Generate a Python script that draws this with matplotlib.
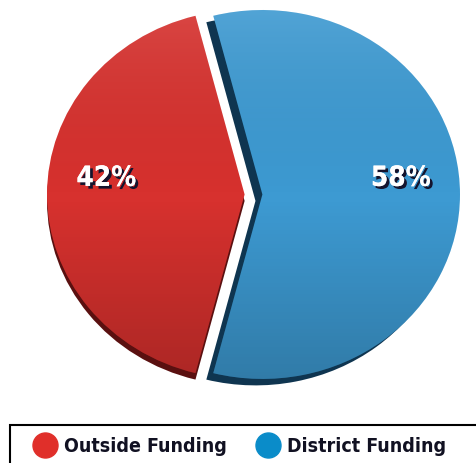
import numpy as np
import matplotlib.pyplot as plt
import matplotlib.patheffects as pe
from matplotlib.colors import LinearSegmentedColormap
from matplotlib.lines import Line2D
from matplotlib.patches import Rectangle

labels = ["Outside Funding", "District Funding"]
shares = [42, 58]
colors = ["#d7312e", "#3d9ad2"]
rim_colors = ["#5a1010", "#0f3550"]
legend_colors = ["#e02f2a", "#0a8cc9"]

fig = plt.figure(figsize=(4.77, 4.63), dpi=100)

# pie axes, stretched so the pie becomes an ellipse
ax = fig.add_axes([47 / 477, 73 / 463, 413 / 477, 380 / 463])
start = 180 - shares[0] / 100 * 360 / 2
expl = [0.03, 0.06]

# dark rim below the slices for a bit of depth
ax.pie(shares, colors=rim_colors[:1] + ["none"], startangle=start, explode=expl,
       center=(0.0, -0.035), wedgeprops=dict(linewidth=0))
ax.pie(shares, colors=["none", rim_colors[1]], startangle=start, explode=expl,
       center=(-0.035, -0.035), wedgeprops=dict(linewidth=0))
wedges, texts, autotexts = ax.pie(
    shares, colors=colors, startangle=start, explode=expl,
    autopct="%d%%", pctdistance=0.7, wedgeprops=dict(linewidth=0),
    textprops=dict(color="white", fontsize=20, fontweight="bold",
                   fontstretch="condensed", family=["DejaVu Sans"]))

# light at top, darker at bottom
grad = np.linspace(1, 0, 256).reshape(-1, 1)
shade = LinearSegmentedColormap.from_list(
    "shade", [(0, 0, 0, 0.22), (0, 0, 0, 0.0), (1, 1, 1, 0.12)])
for w in wedges:
    im = ax.imshow(grad, cmap=shade, extent=(-1.3, 1.3, -1.1, 1.05),
                   aspect="auto", zorder=w.get_zorder() + 0.1, interpolation="bilinear")
    im.set_clip_path(w)

for t in autotexts:
    x, y = t.get_position()
    t.set_position((x, y + 0.09))
    t.set_zorder(5)
    t.set_path_effects([pe.withSimplePatchShadow(offset=(2, -2), shadow_rgbFace="#14142e", alpha=1),
                        pe.Normal()])
ax.set_aspect("auto")
ax.set_xlim(-1.03, 1.06)
ax.set_ylim(-1.06, 1.0)
ax.axis("off")

# legend box, runs off the right and bottom edge like the original
fig.add_artist(Rectangle((10 / 477, -0.05), 1.0, (463 - 425) / 463 + 0.05,
                         transform=fig.transFigure, fill=False,
                         edgecolor="black", linewidth=1.5))
handles = [Line2D([], [], marker="o", linestyle="", markersize=18,
                  markerfacecolor=c, markeredgecolor=c) for c in legend_colors]
fig.legend(handles, labels, loc="center left", bbox_to_anchor=(33 / 477, 17 / 463),
           ncol=2, frameon=False, borderpad=0, borderaxespad=0,
           handlelength=1.2, handletextpad=0.4, columnspacing=1.5,
           prop=dict(family=["DejaVu Sans"], stretch="condensed", weight="bold", size=14),
           labelcolor="#111122")

fig.savefig("out.png", dpi=100)
